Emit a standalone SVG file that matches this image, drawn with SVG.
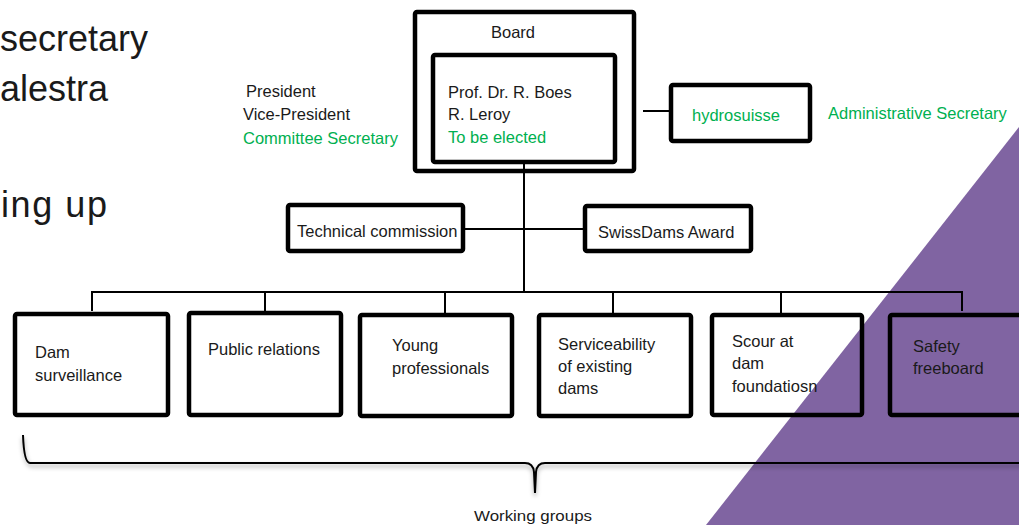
<svg xmlns="http://www.w3.org/2000/svg" width="1019" height="525" viewBox="0 0 1019 525">
<style>
text{font-family:"Liberation Sans",Arial,sans-serif;font-size:16.5px;fill:#1a1a1a}
.big{font-size:36px}
.g{fill:#00b050}
.box{fill:none;stroke:#000;stroke-width:4.5}
.ln{fill:none;stroke:#000;stroke-width:2}
.wg{font-size:15.5px}
</style>
<defs>
<filter id="sh" x="-5%" y="-50%" width="110%" height="200%">
<feGaussianBlur stdDeviation="2"/>
</filter>
</defs>
<rect width="1019" height="525" fill="#fff"/>
<polygon points="1019,127 1019,525 706,525" fill="#8064a2"/>
<g id="left-text">
<text class="big" x="0" y="51">secretary</text>
<text class="big" x="0" y="101">alestra</text>
<text class="big" x="1" y="217" textLength="106" lengthAdjust="spacing">ing up</text>
</g>
<g id="roles">
<text x="246" y="97">President</text>
<text x="243" y="120">Vice-President</text>
<text x="243" y="144" class="g">Committee Secretary</text>
</g>
<g id="connectors">
<line class="ln" x1="524" y1="164" x2="524" y2="292"/>
<line class="ln" x1="643" y1="111" x2="669" y2="111"/>
<line class="ln" x1="465" y1="229" x2="583" y2="229"/>
<polyline class="ln" points="92,311 92,292 962,292 962,311"/>
<line class="ln" x1="265" y1="292" x2="265" y2="311"/>
<line class="ln" x1="445" y1="292" x2="445" y2="313"/>
<line class="ln" x1="613" y1="292" x2="613" y2="313"/>
<line class="ln" x1="781" y1="292" x2="781" y2="313"/>
</g>
<g id="board">
<rect class="box" x="415" y="12" width="219" height="159" rx="2"/>
<text x="513" y="38" text-anchor="middle">Board</text>
</g>
<g id="board-members">
<rect class="box" x="433" y="55" width="182" height="107" rx="2"/>
<text x="448" y="98">Prof. Dr. R. Boes</text>
<text x="448" y="120">R. Leroy</text>
<text x="448" y="143" class="g">To be elected</text>
</g>
<g id="hydrosuisse">
<rect class="box" x="671" y="85" width="139" height="56" rx="2"/>
<text x="692" y="121" class="g">hydrosuisse</text>
</g>
<g id="admin-secretary">
<text x="828" y="119" class="g">Administrative Secretary</text>
</g>
<g id="technical-commission">
<rect class="box" x="288" y="205" width="175" height="46" rx="2"/>
<text x="297" y="237">Technical commission</text>
</g>
<g id="swissdams-award">
<rect class="box" x="585" y="206" width="166" height="45" rx="2"/>
<text x="598" y="238">SwissDams Award</text>
</g>
<g id="dam-surveillance">
<rect class="box" x="15" y="314" width="153" height="101" rx="2"/>
<text x="35" y="358">Dam</text>
<text x="35" y="381">surveillance</text>
</g>
<g id="public-relations">
<rect class="box" x="189" y="313" width="152" height="102" rx="2"/>
<text x="208" y="355">Public relations</text>
</g>
<g id="young-professionals">
<rect class="box" x="360" y="315" width="152" height="101" rx="2"/>
<text x="392" y="351">Young</text>
<text x="392" y="374">professionals</text>
</g>
<g id="serviceability">
<rect class="box" x="539" y="315" width="152" height="101" rx="2"/>
<text x="558" y="350">Serviceability</text>
<text x="558" y="372">of existing</text>
<text x="558" y="394">dams</text>
</g>
<g id="scour">
<rect class="box" x="712" y="315" width="150" height="100" rx="2"/>
<text x="732" y="347">Scour at</text>
<text x="732" y="369">dam</text>
<text x="732" y="392">foundatiosn</text>
</g>
<g id="safety-freeboard">
<rect class="box" x="890" y="315" width="160" height="100" rx="2"/>
<text x="913" y="352">Safety</text>
<text x="913" y="374">freeboard</text>
</g>
<g id="working-groups">
<path d="M23,438 Q24,466 32,466 L525,466 Q533,466 534,475 L535,496 L536,475 Q537,466 545,466 L1025,466" fill="none" stroke="#000" stroke-opacity="0.25" stroke-width="3" filter="url(#sh)"/>
<path d="M23,435 Q24,463 30,463 L525,463 Q533,463 534,472 L535,493 L536,472 Q537,463 545,463 L1025,463" fill="none" stroke="#000" stroke-width="2"/>
<text x="474" y="521" class="wg" textLength="118" lengthAdjust="spacingAndGlyphs">Working groups</text>
</g>
</svg>
